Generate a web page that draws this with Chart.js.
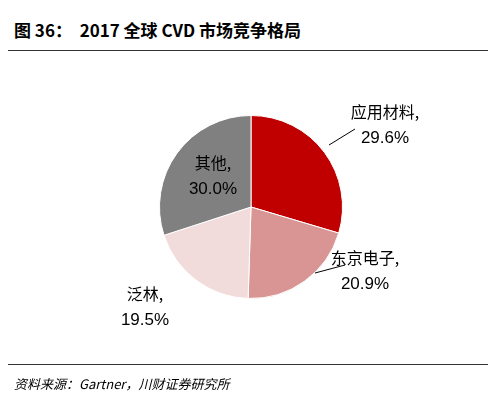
<!DOCTYPE html>
<html lang="zh">
<head>
<meta charset="UTF-8">
<title>2017 全球 CVD 市场竞争格局</title>
<style>
  body { margin: 0; width: 496px; height: 408px; background: #fff; position: relative; overflow: hidden; }
  .title { position: absolute; left: 14px; top: 17px; font: bold 17px "Noto Sans CJK SC", sans-serif; color: #000; }
  .rule-top { position: absolute; left: 8px; right: 8px; top: 50px; border-top: 1.5px solid #333; }
  .rule-bot { position: absolute; left: 8px; right: 8px; top: 364px; border-top: 1px solid #333; }
  .src { position: absolute; left: 14px; top: 374px; font: italic 13px "Noto Sans CJK SC", sans-serif; color: #000; }
  .wrap { position: absolute; left: 0; top: 50px; width: 496px; height: 315px; }
</style>
</head>
<body>
<div class="title">图 36：&nbsp;&nbsp;2017 全球 CVD 市场竞争格局</div>
<div class="rule-top"></div>
<div class="wrap"><canvas id="pie"></canvas></div>
<div class="rule-bot"></div>
<div class="src">资料来源：Gartner，川财证券研究所</div>

<script src="https://cdn.jsdelivr.net/npm/chart.js"></script>
<script>
  const categories = ['应用材料', '东京电子', '泛林', '其他'];
  const shares = [29.6, 20.9, 19.5, 30.0];
  const colors = ['#c00000', '#d99594', '#f2dcdb', '#808080'];

  // label offsets from pie centre, and optional leader lines
  const labelPos = [
    { dx: 134, dy: -83, line: [[78, -62], [104, -78]] },
    { dx: 114, dy: 63, line: [[64, 66], [94, 58]] },
    { dx: -106, dy: 99 },
    { dx: -38, dy: -32 }
  ];

  const labelPlugin = {
    id: 'sliceLabels',
    afterDraw(chart) {
      const arc = chart.getDatasetMeta(0).data[0];
      const cx = arc.x, cy = arc.y;
      const ctx = chart.ctx;
      ctx.save();
      ctx.textAlign = 'center';
      ctx.fillStyle = '#000';
      ctx.strokeStyle = '#000';
      ctx.lineWidth = 1;
      labelPos.forEach((p, i) => {
        if (p.line) {
          ctx.beginPath();
          ctx.moveTo(cx + p.line[0][0], cy + p.line[0][1]);
          ctx.lineTo(cx + p.line[1][0], cy + p.line[1][1]);
          ctx.stroke();
        }
        ctx.font = '16px "Noto Sans CJK SC", sans-serif';
        ctx.textBaseline = 'alphabetic';
        ctx.fillText(categories[i] + ',', cx + p.dx, cy + p.dy - 6);
        ctx.font = '17px "Liberation Sans", Arial, sans-serif';
        ctx.fillText(shares[i].toFixed(1) + '%', cx + p.dx, cy + p.dy + 19);
      });
      ctx.restore();
    }
  };

  new Chart(document.getElementById('pie'), {
    type: 'pie',
    data: {
      labels: categories,
      datasets: [{
        data: shares,
        backgroundColor: colors,
        borderColor: '#fff',
        borderWidth: 1
      }]
    },
    options: {
      responsive: true,
      maintainAspectRatio: false,
      animation: false,
      layout: { padding: { top: 65, bottom: 66, left: 6, right: 0 } },
      plugins: { legend: { display: false }, tooltip: { enabled: false } }
    },
    plugins: [labelPlugin]
  });
</script>
</body>
</html>
